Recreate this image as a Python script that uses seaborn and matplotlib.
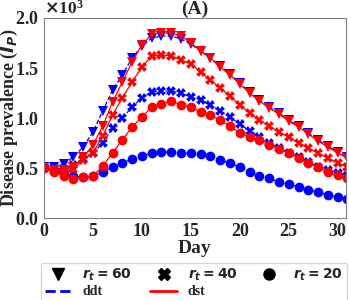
import numpy as np
import pandas as pd
import seaborn as sns
import matplotlib
matplotlib.use('Agg')
import matplotlib.pyplot as plt
import matplotlib.ticker as ticker
from matplotlib.lines import Line2D

days = list(range(32))

# disease prevalence, in units of 10^3
ddt_60 = [0.51, 0.51, 0.54, 0.61, 0.71, 0.86, 1.07, 1.28, 1.43, 1.60, 1.72, 1.80, 1.82, 1.82, 1.79, 1.74,
          1.67, 1.60, 1.52, 1.44, 1.35, 1.26, 1.18, 1.11, 1.05, 0.98, 0.92, 0.85, 0.78, 0.72, 0.66, 0.61]
dst_60 = [0.50, 0.48, 0.48, 0.51, 0.61, 0.73, 0.92, 1.16, 1.36, 1.56, 1.73, 1.84, 1.85, 1.85, 1.82, 1.75,
          1.67, 1.60, 1.51, 1.43, 1.34, 1.25, 1.17, 1.10, 1.04, 0.97, 0.91, 0.84, 0.77, 0.71, 0.65, 0.60]
ddt_40 = [0.51, 0.50, 0.49, 0.53, 0.59, 0.65, 0.75, 0.90, 1.00, 1.11, 1.20, 1.26, 1.27, 1.27, 1.25, 1.21,
          1.18, 1.13, 1.07, 1.01, 0.94, 0.87, 0.81, 0.75, 0.70, 0.65, 0.61, 0.56, 0.51, 0.48, 0.45, 0.42]
dst_40 = [0.50, 0.47, 0.47, 0.49, 0.58, 0.65, 0.82, 1.03, 1.20, 1.36, 1.51, 1.62, 1.63, 1.62, 1.58, 1.54,
          1.46, 1.38, 1.30, 1.22, 1.13, 1.05, 0.98, 0.92, 0.86, 0.81, 0.75, 0.70, 0.65, 0.60, 0.55, 0.51]
ddt_20 = [0.50, 0.48, 0.44, 0.42, 0.41, 0.42, 0.46, 0.51, 0.55, 0.59, 0.62, 0.65, 0.66, 0.66, 0.65, 0.65,
          0.64, 0.62, 0.58, 0.55, 0.51, 0.46, 0.42, 0.40, 0.36, 0.34, 0.31, 0.28, 0.26, 0.23, 0.21, 0.19]
dst_20 = [0.50, 0.46, 0.42, 0.39, 0.41, 0.42, 0.52, 0.65, 0.78, 0.91, 1.01, 1.11, 1.14, 1.17, 1.13, 1.11,
          1.06, 1.03, 0.98, 0.92, 0.85, 0.81, 0.78, 0.73, 0.69, 0.65, 0.60, 0.55, 0.51, 0.46, 0.43, 0.40]

sns.set_style('white')
plt.rcParams['font.family'] = ['Liberation Serif']
plt.rcParams['font.weight'] = 'bold'
plt.rcParams['mathtext.fontset'] = 'dejavusans'

fig, ax = plt.subplots(figsize=(3.49, 3.0), dpi=100)
fig.subplots_adjust(left=0.126, right=0.99, top=0.94, bottom=0.273)

blue = '#0000ff'
red = '#ff0000'
series = [
    (ddt_60, blue, '--', 'v'), (ddt_40, blue, '--', 'X'), (ddt_20, blue, '--', 'o'),
    (dst_60, red, '-', 'v'), (dst_40, red, '-', 'X'), (dst_20, red, '-', 'o'),
]
for vals, c, ls, m in series:
    df = pd.DataFrame({'day': days, 'prev': np.array(vals) * 1000})
    sns.lineplot(data=df, x='day', y='prev', ax=ax, color=c, linestyle=ls, lw=0.9,
                 marker=m, markersize=7, markeredgewidth=0, alpha=1)

ax.set_xlim(0, 30.8)
ax.set_ylim(0, 2000)
ax.xaxis.set_major_locator(ticker.MultipleLocator(5))
ax.yaxis.set_major_locator(ticker.MultipleLocator(500))
fmt = ticker.ScalarFormatter(useMathText=True)
fmt.set_powerlimits((3, 3))
ax.yaxis.set_major_formatter(fmt)
ax.yaxis.get_offset_text().set_fontsize(12.5)
ax.yaxis.get_offset_text().set_fontweight('bold')
ax.tick_params(labelsize=13, length=3, pad=0.5)
for t in ax.get_xticklabels() + ax.get_yticklabels():
    t.set_fontweight('bold')
for s in ax.spines.values():
    s.set_color('#808080')

ax.set_xlabel('Day', fontsize=14, fontweight='bold', labelpad=0)
ax.set_ylabel(r'Disease prevalence ($\boldsymbol{I_P}$)', fontsize=13, fontweight='bold')
ax.yaxis.set_label_coords(-0.08, 0.5)
ax.set_title('(A)', fontsize=14, fontweight='bold', pad=3)

handles = [
    Line2D([], [], color='k', marker='v', ls='', markersize=8),
    Line2D([], [], color=blue, ls='--', lw=2),
    Line2D([], [], color='k', marker='X', ls='', markersize=8),
    Line2D([], [], color=red, ls='-', lw=2),
    Line2D([], [], color='k', marker='o', ls='', markersize=8),
]
labels = [r'$\boldsymbol{r_t = 60}$', 'ddt', r'$\boldsymbol{r_t = 40}$', 'dst', r'$\boldsymbol{r_t = 20}$']
fig.legend(handles, labels, ncol=3, loc='upper center', bbox_to_anchor=(0.556, 0.147),
           prop={'family': 'Liberation Serif', 'weight': 'bold', 'size': 10},
           handlelength=1.9, columnspacing=1.3, handletextpad=0.8, labelspacing=0.15,
           borderpad=0.3)

fig.savefig('out.png', dpi=100)
